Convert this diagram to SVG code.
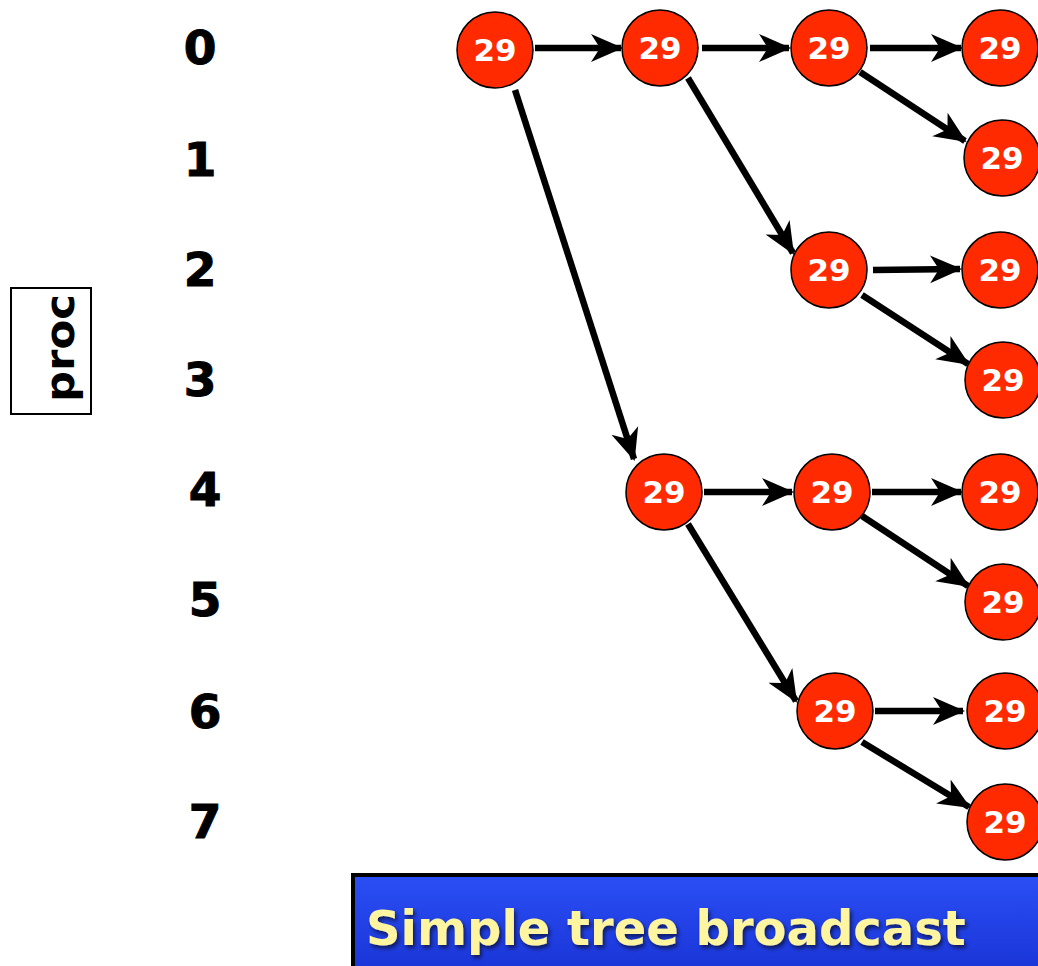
<svg xmlns="http://www.w3.org/2000/svg" width="1038" height="966" viewBox="0 0 1038 966">
<style>
.n circle{fill:#ff2a00;stroke:#000;stroke-width:1.5}
.n text{fill:#fff;font-family:"DejaVu Sans",sans-serif;font-weight:bold;font-size:31px;text-anchor:middle}
.lbl{font-family:"DejaVu Sans",sans-serif;font-weight:bold;font-size:47px;fill:#000;text-anchor:middle;stroke:#000;stroke-width:1}
#edges line{stroke:#000;stroke-width:6.5;marker-end:url(#ah)}
</style>
<defs>
<marker id="ah" markerUnits="userSpaceOnUse" markerWidth="34" markerHeight="34" viewBox="0 0 34 34" refX="30" refY="17" orient="auto">
<path d="M0,3 L32,17 L0,31 L9,17 Z" fill="#000"/>
</marker>
<linearGradient id="bg" x1="0" y1="0" x2="0" y2="1">
<stop offset="0" stop-color="#2a4ff5"/>
<stop offset="1" stop-color="#1a35d8"/>
</linearGradient>
<filter id="sh" x="-5%" y="-20%" width="110%" height="150%">
<feDropShadow dx="2" dy="3" stdDeviation="2" flood-color="#000" flood-opacity="0.6"/>
</filter>
</defs>
<g id="labels">
<text class="lbl" x="200" y="64">0</text>
<text class="lbl" x="200" y="176">1</text>
<text class="lbl" x="200" y="286">2</text>
<text class="lbl" x="200" y="396">3</text>
<text class="lbl" x="205" y="506">4</text>
<text class="lbl" x="205" y="616">5</text>
<text class="lbl" x="205" y="728">6</text>
<text class="lbl" x="205" y="838">7</text>
</g>
<g id="proc">
<rect x="11" y="288" width="80" height="126" fill="#fff" stroke="#000" stroke-width="2"/>
<text x="0" y="0" transform="translate(74,348) rotate(-90)" font-family="DejaVu Sans,sans-serif" font-weight="bold" font-size="40" text-anchor="middle" textLength="108" lengthAdjust="spacingAndGlyphs">proc</text>
</g>
<g id="edges">
<line x1="535" y1="48" x2="621" y2="48"/>
<line x1="702" y1="48" x2="789" y2="48"/>
<line x1="870" y1="48" x2="961" y2="48"/>
<line x1="860" y1="72" x2="965" y2="141"/>
<line x1="688" y1="78" x2="793" y2="253"/>
<line x1="515" y1="90" x2="634" y2="459"/>
<line x1="873" y1="270" x2="960" y2="269"/>
<line x1="862" y1="295" x2="968" y2="364"/>
<line x1="704" y1="492" x2="792" y2="492"/>
<line x1="872" y1="492" x2="961" y2="492"/>
<line x1="862" y1="516" x2="968" y2="586"/>
<line x1="688" y1="524" x2="796" y2="701"/>
<line x1="875" y1="711" x2="963" y2="711"/>
<line x1="862" y1="742" x2="969" y2="807"/>
</g>
<g id="n0" class="n"><circle cx="495" cy="50" r="38"/><text x="495" y="61">29</text></g>
<g id="n1" class="n"><circle cx="660" cy="48" r="38"/><text x="660" y="59">29</text></g>
<g id="n2" class="n"><circle cx="829" cy="48" r="38"/><text x="829" y="59">29</text></g>
<g id="n3" class="n"><circle cx="1000" cy="48" r="38"/><text x="1000" y="59">29</text></g>
<g id="n4" class="n"><circle cx="1002" cy="158" r="38"/><text x="1002" y="169">29</text></g>
<g id="n5" class="n"><circle cx="829" cy="270" r="38"/><text x="829" y="281">29</text></g>
<g id="n6" class="n"><circle cx="1000" cy="270" r="38"/><text x="1000" y="281">29</text></g>
<g id="n7" class="n"><circle cx="1003" cy="380" r="38"/><text x="1003" y="391">29</text></g>
<g id="n8" class="n"><circle cx="664" cy="492" r="38"/><text x="664" y="503">29</text></g>
<g id="n9" class="n"><circle cx="832" cy="492" r="38"/><text x="832" y="503">29</text></g>
<g id="n10" class="n"><circle cx="1000" cy="492" r="38"/><text x="1000" y="503">29</text></g>
<g id="n11" class="n"><circle cx="1003" cy="602" r="38"/><text x="1003" y="613">29</text></g>
<g id="n12" class="n"><circle cx="835" cy="711" r="38"/><text x="835" y="722">29</text></g>
<g id="n13" class="n"><circle cx="1005" cy="711" r="38"/><text x="1005" y="722">29</text></g>
<g id="n14" class="n"><circle cx="1005" cy="822" r="38"/><text x="1005" y="833">29</text></g>
<g id="banner">
<rect x="353" y="875" width="690" height="95" fill="url(#bg)" stroke="#000" stroke-width="4"/>
<text x="366" y="945" font-family="DejaVu Sans,sans-serif" font-weight="bold" font-size="48" fill="#fff5a0" filter="url(#sh)">Simple tree broadcast</text>
</g>
</svg>
